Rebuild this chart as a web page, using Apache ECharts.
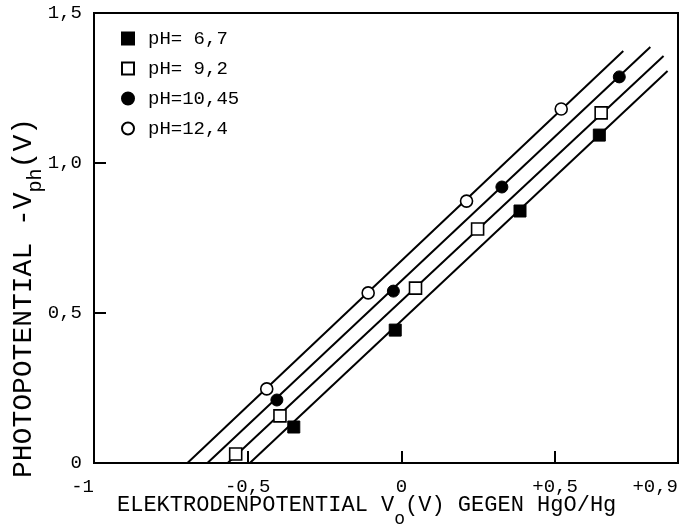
<!DOCTYPE html>
<html>
<head>
<meta charset="utf-8">
<script src="https://cdn.jsdelivr.net/npm/echarts@6/dist/echarts.min.js"></script>
<style>
  html, body { margin: 0; padding: 0; background: #fff; }
  #chart { width: 688px; height: 530px; }
</style>
</head>
<body>
<div id="chart"></div>
<script>
// Measured points: electrode potential V0 (V vs HgO/Hg) and photopotential -Vph (V)
const ph67X   = [-0.350, -0.020, 0.386, 0.644];
const ph67Y   = [0.120, 0.443, 0.840, 1.093];
const ph92X   = [-0.539, -0.395, 0.046, 0.248, 0.650];
const ph92Y   = [0.030, 0.157, 0.583, 0.780, 1.167];
const ph1045X = [-0.405, -0.026, 0.327, 0.709];
const ph1045Y = [0.210, 0.573, 0.920, 1.287];
const ph124X  = [-0.438, -0.108, 0.212, 0.520];
const ph124Y  = [0.247, 0.567, 0.873, 1.180];

// Fitted straight lines: [x0, y0, x1, y1]
const fit67   = [-0.493, 0, 0.866, 1.307];
const fit92   = [-0.565, 0, 0.853, 1.357];
const fit1045 = [-0.631, 0, 0.810, 1.387];
const fit124  = [-0.696, 0, 0.722, 1.373];

const seriesNames = ['pH= 6,7', 'pH= 9,2', 'pH=10,45', 'pH=12,4'];

// Axis ticks and their printed labels
const xTickValues = [-1, -0.5, 0, 0.5, 0.9];
const xTickLabels = ['-1', '-0,5', '0', '+0,5', '+0,9'];
const yTickValues = [0, 0.5, 1.0, 1.5];
const yTickLabels = ['0', '0,5', '1,0', '1,5'];

const FONT = '"Liberation Mono", "DejaVu Sans Mono", monospace';

function pairs(xs, ys) { return xs.map((x, i) => [x, ys[i]]); }
function seg(f) { return [[f[0], f[1]], [f[2], f[3]]]; }
function lookup(vals, labels, v) {
  for (let i = 0; i < vals.length; i++) if (Math.abs(vals[i] - v) < 1e-6) return labels[i];
  return '';
}

const lineStyle = { color: '#000', width: 2, opacity: 1 };
function fitSeries(name, f) {
  return { name: name, type: 'line', data: seg(f), symbol: 'none', silent: true,
           lineStyle: lineStyle, z: 2, animation: false };
}
function pointSeries(name, data, symbol, filled) {
  return {
    name: name, type: 'scatter', data: data, symbol: symbol, symbolSize: 12, z: 3,
    itemStyle: filled ? { color: '#000', borderColor: '#000', borderWidth: 1, opacity: 1 }
                      : { color: '#fff', borderColor: '#000', borderWidth: 1.6, opacity: 1 },
    animation: false
  };
}

const chart = echarts.init(document.getElementById('chart'), null, { renderer: 'canvas' });
chart.setOption({
  backgroundColor: '#fff',
  animation: false,
  grid: { left: 94, right: 10, top: 13, bottom: 67, show: true, borderColor: '#000', borderWidth: 2 },
  legend: {
    orient: 'vertical', left: 116, top: 24, itemGap: 11,
    itemWidth: 12, itemHeight: 12,
    data: seriesNames,
    textStyle: { fontFamily: FONT, fontSize: 19, color: '#000', padding: [0, 0, 0, 9] },
    selectedMode: false
  },
  xAxis: {
    type: 'value', min: -1, max: 0.9, interval: 0.5,
    axisLine: { onZero: false, lineStyle: { color: '#000', width: 2 } },
    axisTick: { inside: true, length: 12, lineStyle: { color: '#000', width: 2 } },
    splitLine: { show: false },
    axisLabel: {
      margin: 14, fontFamily: FONT, fontSize: 19, color: '#000',
      showMinLabel: true, showMaxLabel: true,
      alignMinLabel: 'right', alignMaxLabel: 'right',
      formatter: v => lookup(xTickValues, xTickLabels, v)
    }
  },
  yAxis: {
    type: 'value', min: 0, max: 1.5, interval: 0.5,
    axisLine: { onZero: false, lineStyle: { color: '#000', width: 2 } },
    axisTick: { inside: true, length: 12, lineStyle: { color: '#000', width: 2 } },
    splitLine: { show: false },
    axisLabel: {
      margin: 12, fontFamily: FONT, fontSize: 19, color: '#000',
      formatter: v => lookup(yTickValues, yTickLabels, v)
    }
  },
  graphic: [
    {
      type: 'text', left: 117, top: 494,
      style: {
        text: '{a|ELEKTRODENPOTENTIAL V}{s|o}{a|(V) GEGEN HgO/Hg}',
        rich: {
          a: { fontFamily: FONT, fontSize: 22, color: '#000', lineHeight: 34, verticalAlign: 'top' },
          s: { fontFamily: FONT, fontSize: 18, color: '#000', lineHeight: 34, verticalAlign: 'bottom' }
        }
      }
    },
    {
      type: 'text', x: 24, y: 298, rotation: Math.PI / 2,
      style: {
        text: '{a|PHOTOPOTENTIAL -V}{s|ph}{a|(V)}',
        align: 'center', verticalAlign: 'middle',
        rich: {
          a: { fontFamily: FONT, fontSize: 28, color: '#000', lineHeight: 44, verticalAlign: 'middle' },
          s: { fontFamily: FONT, fontSize: 20, color: '#000', lineHeight: 44, verticalAlign: 'bottom' }
        }
      }
    }
  ],
  series: [
    fitSeries('fit 6,7', fit67),
    fitSeries('fit 9,2', fit92),
    fitSeries('fit 10,45', fit1045),
    fitSeries('fit 12,4', fit124),
    pointSeries(seriesNames[0], pairs(ph67X, ph67Y), 'rect', true),
    pointSeries(seriesNames[1], pairs(ph92X, ph92Y), 'rect', false),
    pointSeries(seriesNames[2], pairs(ph1045X, ph1045Y), 'circle', true),
    pointSeries(seriesNames[3], pairs(ph124X, ph124Y), 'circle', false)
  ]
});
</script>
</body>
</html>
